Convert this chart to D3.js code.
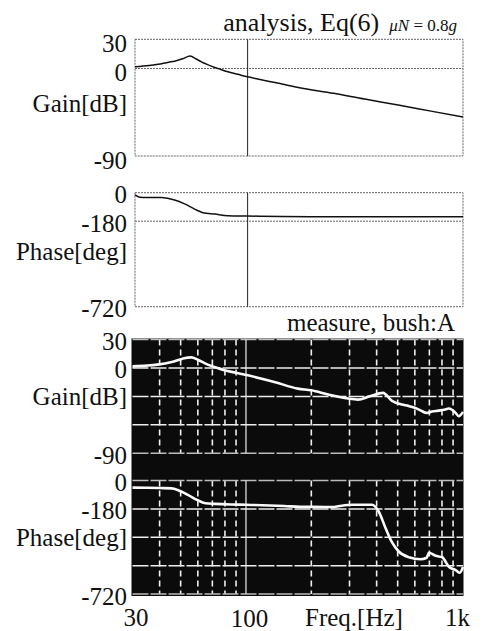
<!DOCTYPE html>
<html>
<head>
<meta charset="utf-8">
<script src="https://cdn.jsdelivr.net/npm/d3@7"></script>
<style>
  body { margin: 0; background: #fff; }
  svg text { font-family: "Liberation Serif", "Times New Roman", Times, serif; fill: #111; }
</style>
</head>
<body>
<svg id="bode" width="489" height="631"></svg>
<script>
// analysis, Eq(6)
const anaGainFreq = [30, 34.9, 38.4, 43, 45.8, 50, 54, 58, 61, 66, 70.4, 75, 81, 90, 100, 134, 172, 250, 350, 500, 700, 1000];
const anaGain     = [1.7, 3, 4.4, 6.5, 7.5, 10, 12.7, 9.5, 6.8, 3.5, 1, -1, -3.4, -6, -8.6, -14.4, -19.6, -25.5, -31.5, -37.5, -43.6, -50];

const anaPhaseFreq = [30, 31.6, 35, 39.8, 45.8, 51, 57, 62, 70.4, 81, 100, 144, 200, 1000];
const anaPhase     = [-14, -28, -30, -31, -46, -71, -105, -126, -135, -145, -147, -151, -152, -152];

// measure, bush:A
const mesGainFreq = [30, 35, 39, 45.5, 51, 56, 60, 66.6, 72, 79.6, 90, 102, 135, 173.5, 200, 239, 295, 328, 372, 428, 469, 522, 560, 600, 640, 679, 720, 769, 820, 861, 925, 955, 1000];
const mesGain     = [1.7, 2.5, 3.5, 6.3, 9.8, 11.2, 8.7, 3.5, 0.8, -2.5, -5, -7.8, -14.7, -21.8, -23.5, -28, -32.3, -33.4, -29.9, -26.3, -34.4, -38.6, -40, -42, -45, -47.4, -46, -45, -44, -42.8, -47.4, -50.9, -46.3];

const mesPhaseFreq = [30, 35, 40, 45.5, 50, 54, 59.5, 65, 72, 85, 100, 150, 178, 230, 250, 270, 309, 381, 409, 440, 469, 507, 563, 638, 680, 697, 748, 802, 861, 925, 967, 1000];
const mesPhase     = [-45, -46, -48, -50, -68, -91, -123, -144, -148, -152, -154, -162, -167, -168, -169, -162, -154, -154, -197, -303, -388, -452, -487, -500, -490, -458, -478, -487, -547, -568, -585, -549];

// ticks and labels
const gainTicks  = [30, 0, -90];
const phaseTicks = [0, -180, -720];
const gainGrid   = [30, 0, -30, -60, -90];
const phaseGrid  = [0, -180, -360, -540, -720];
const freqGrid   = [40, 50, 60, 70, 80, 90, 200, 300, 400, 500, 600, 700, 800, 900];
const freqTicks  = [30, 100, 1000];
const freqLabels = ["30", "100", "1k"];

const svg = d3.select("#bode");
const zip = (xs, ys) => xs.map((x, i) => [x, ys[i]]);

const xTop = d3.scaleLog().domain([30, 1000]).range([135, 463]);
const xBot = d3.scaleLog().domain([30, 1000]).range([132.5, 463]);

const panels = [
  { x: xTop, y: d3.scaleLinear().domain([-90, 30]).range([156, 39.3]), ticks: gainTicks, name: "Gain[dB]", nameAt: -30, nameDy: 14, tickDy: 4, data: zip(anaGainFreq, anaGain), dark: false, hline: [0] },
  { x: xTop, y: d3.scaleLinear().domain([-720, 0]).range([306.7, 192.7]), ticks: phaseTicks, name: "Phase[deg]", nameAt: -360, nameDy: 10, tickDy: 2, data: zip(anaPhaseFreq, anaPhase), dark: false, hline: [-180] },
  { x: xBot, y: d3.scaleLinear().domain([-90, 30]).range([453.3, 339.5]), ticks: gainTicks, name: "Gain[dB]", nameAt: -30, nameDy: 9, tickDy: 2, data: zip(mesGainFreq, mesGain), dark: true, hline: gainGrid },
  { x: xBot, y: d3.scaleLinear().domain([-720, 0]).range([594, 480.5]), ticks: phaseTicks, name: "Phase[deg]", nameAt: -360, nameDy: 9, tickDy: 2, data: zip(mesPhaseFreq, mesPhase), dark: true, hline: phaseGrid }
];

// black background of the measured plots
svg.append("rect")
  .attr("x", xBot.range()[0] - 1).attr("y", panels[2].y.range()[1] - 1)
  .attr("width", xBot.range()[1] - xBot.range()[0] + 1.5)
  .attr("height", panels[3].y.range()[0] - panels[2].y.range()[1] + 3)
  .attr("fill", "#0b0b0b");

panels.forEach(p => {
  const g = svg.append("g");
  const [x0, x1] = p.x.range();
  const [yb, yt] = p.y.range();

  if (!p.dark) {
    g.append("rect")
      .attr("x", x0).attr("y", yt).attr("width", x1 - x0).attr("height", yb - yt)
      .attr("fill", "none").attr("stroke", "#666").attr("stroke-width", 1)
      .attr("stroke-dasharray", "2,1");
    g.selectAll("line.h").data(p.hline).join("line")
      .attr("x1", x0).attr("x2", x1)
      .attr("y1", d => p.y(d)).attr("y2", d => p.y(d))
      .attr("stroke", "#666").attr("stroke-dasharray", "2,1");
    g.append("line")
      .attr("x1", p.x(100)).attr("x2", p.x(100)).attr("y1", yt).attr("y2", yb)
      .attr("stroke", "#222").attr("stroke-width", 1);
  } else {
    g.selectAll("line.v").data(freqGrid).join("line")
      .attr("x1", d => p.x(d)).attr("x2", d => p.x(d)).attr("y1", yt).attr("y2", yb)
      .attr("stroke", "#eee").attr("stroke-width", 1.6).attr("stroke-dasharray", "6,4");
    g.selectAll("line.h").data(p.hline).join("line")
      .attr("x1", x0).attr("x2", x1)
      .attr("y1", d => p.y(d)).attr("y2", d => p.y(d))
      .attr("stroke", (d, i) => (i === 0 || i === p.hline.length - 1) ? "#bbb" : "#eee")
      .attr("stroke-width", 1.5).attr("stroke-dasharray", "16,2");
    g.append("line")
      .attr("x1", p.x(100)).attr("x2", p.x(100)).attr("y1", yt).attr("y2", yb)
      .attr("stroke", "#eee").attr("stroke-width", 1.2);
  }

  g.append("path")
    .datum(p.data)
    .attr("fill", "none")
    .attr("stroke", p.dark ? "#fafafa" : "#111")
    .attr("stroke-width", p.dark ? 2.6 : 1.5)
    .attr("stroke-linejoin", "round")
    .attr("d", d3.line().x(d => p.x(d[0])).y(d => p.y(d[1])).curve(d3.curveMonotoneX));

  // tick labels (plain hyphen, as in the original)
  const ax = svg.append("g")
    .attr("transform", `translate(127,${p.tickDy})`)
    .call(d3.axisLeft(p.y).tickValues(p.ticks).tickSize(0).tickPadding(0).tickFormat(d => String(d)));
  ax.select(".domain").remove();
  ax.selectAll("text").attr("font-size", 25).attr("fill", "#111")
    .attr("font-family", "Liberation Serif, serif");

  svg.append("text")
    .attr("x", 127).attr("y", p.y(p.nameAt) + p.nameDy)
    .attr("text-anchor", "end").attr("font-size", 25)
    .text(p.name);
});

// titles
const t1 = svg.append("text").attr("x", 457).attr("y", 31).attr("text-anchor", "end");
t1.append("tspan").attr("font-size", 26).text("analysis, Eq(6)");
t1.append("tspan").attr("font-size", 17).attr("dx", 10).attr("font-style", "italic").text("μN");
t1.append("tspan").attr("font-size", 17).text(" = 0.8");
t1.append("tspan").attr("font-size", 17).attr("font-style", "italic").text("g");

svg.append("text").attr("x", 455).attr("y", 331).attr("text-anchor", "end")
  .attr("font-size", 25).text("measure, bush:A");

// frequency axis
const fx = svg.append("g")
  .attr("transform", "translate(0,608)")
  .call(d3.axisBottom(xBot).tickValues(freqTicks).tickSize(0).tickPadding(0)
    .tickFormat((d, i) => freqLabels[i]));
fx.select(".domain").remove();
fx.selectAll("text").attr("font-size", 25).attr("fill", "#111")
  .attr("font-family", "Liberation Serif, serif")
  .attr("dx", (d, i) => [3, 3, -6][i])
  .attr("y", (d, i) => [0, 1.5, 0][i]);

svg.append("text").attr("x", 354).attr("y", 626).attr("text-anchor", "middle")
  .attr("font-size", 25).text("Freq.[Hz]");
</script>
</body>
</html>
